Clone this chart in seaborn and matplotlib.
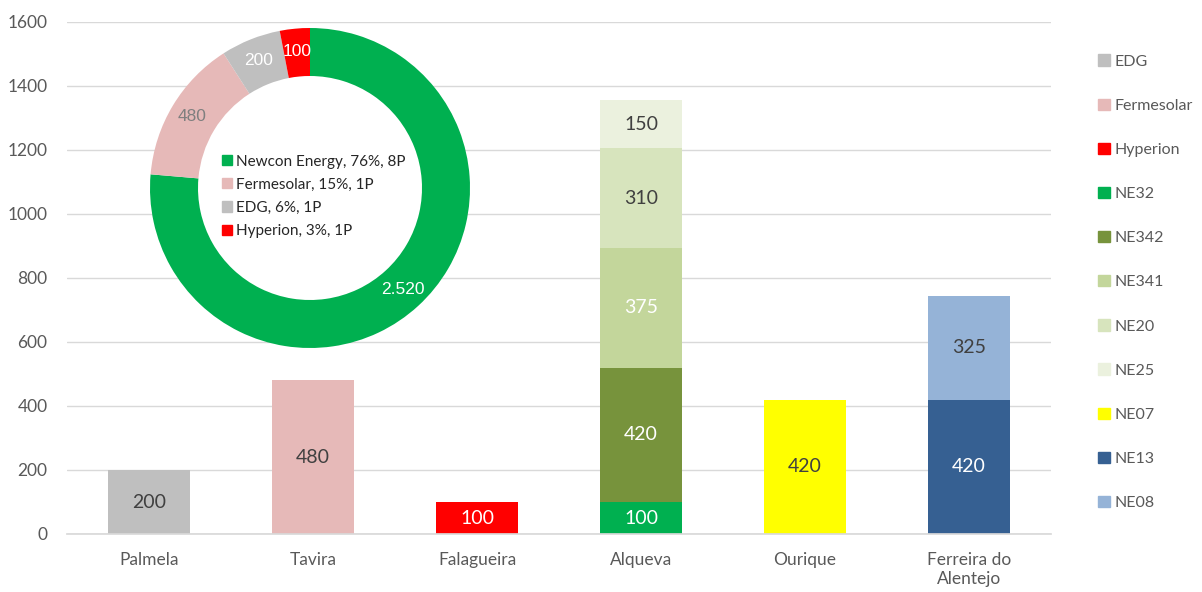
import matplotlib
matplotlib.use("Agg")
import matplotlib.pyplot as plt
import matplotlib.patches as mpatches
import seaborn as sns
import numpy as np

# ---------------- data ----------------
categories = ["Palmela", "Tavira", "Falagueira", "Alqueva", "Ourique", "Ferreira do\nAlentejo"]
series_names = ["EDG", "Fermesolar", "Hyperion", "NE32", "NE342", "NE341", "NE20", "NE25", "NE07", "NE13", "NE08"]
series_category = ["Palmela", "Tavira", "Falagueira", "Alqueva", "Alqueva", "Alqueva", "Alqueva", "Alqueva",
                   "Ourique", "Ferreira do\nAlentejo", "Ferreira do\nAlentejo"]
series_values = [200, 480, 100, 100, 420, 375, 310, 150, 420, 420, 325]
series_colors = ["#BFBFBF", "#E6B9B8", "#FF0000", "#00B050", "#77933C", "#C3D69B", "#D7E4BD", "#EBF1DE",
                 "#FFFF00", "#366092", "#95B3D7"]
label_colors = ["#404040", "#404040", "white", "white", "white", "white", "#404040", "#404040",
                "#404040", "white", "#404040"]
y_ticks = [0, 200, 400, 600, 800, 1000, 1200, 1400, 1600]

donut_names = ["Newcon Energy", "Fermesolar", "EDG", "Hyperion"]
donut_values = [2520, 480, 200, 100]
donut_projects = ["8P", "1P", "1P", "1P"]
donut_colors = ["#00B050", "#E6B9B8", "#BFBFBF", "#FF0000"]
donut_label_colors = ["white", "#7F7F7F", "white", "white"]

# ---------------- style ----------------
sns.set_theme(style="white")
plt.rcParams["font.family"] = ["Lato", "DejaVu Sans"]
text_grey = "#595959"

W, H = 1202, 592
fig = plt.figure(figsize=(W / 100, H / 100), dpi=100)
ax = fig.add_axes([67 / W, 58 / H, (1051 - 67) / W, (534 - 22) / H])

bottoms = {c: 0 for c in categories}
handles = []
for name, cat, val, col, lcol in zip(series_names, series_category, series_values, series_colors, label_colors):
    b = bottoms[cat]
    sns.barplot(x=[cat], y=[val], order=categories, color=col, width=0.5, bottom=b,
                ax=ax, saturation=1, linewidth=0, edgecolor="none")
    cont = ax.containers[-1]
    ax.bar_label(cont, labels=[f"{val}"], label_type="center", color=lcol, fontsize=14)
    bottoms[cat] = b + val
    handles.append(mpatches.Patch(color=col, label=name))

ax.set_ylim(0, 1600)
ax.set_yticks(y_ticks)
ax.set_xlim(-0.5, len(categories) - 0.5)
ax.set_xlabel("")
ax.set_ylabel("")
ax.yaxis.grid(True, color="#D9D9D9", linewidth=1)
ax.set_axisbelow(True)
for s in ["top", "right", "left"]:
    ax.spines[s].set_visible(False)
ax.spines["bottom"].set_color("#D9D9D9")
ax.tick_params(axis="both", length=0, colors=text_grey, labelsize=12.5)
ax.tick_params(axis="y", pad=14)
ax.tick_params(axis="x", pad=13)

leg = fig.legend(handles=handles, loc="upper left", bbox_to_anchor=(1092 / W, 1 - 48 / H),
                 frameon=False, fontsize=11.5, labelspacing=1.87, handlelength=0.72, handleheight=0.72,
                 handletextpad=0.3, borderaxespad=0)
for t in leg.get_texts():
    t.set_color(text_grey)

# ---------------- donut ----------------
cx, cy, r = 310, 188, 160
pax = fig.add_axes([(cx - r) / W, 1 - (cy + r) / H, 2 * r / W, 2 * r / H])
pax.set_aspect("equal")
pax.add_patch(mpatches.Circle((0, 0), 0.72, color="white", zorder=0))
wedges, _, autotexts = pax.pie(donut_values, colors=donut_colors, startangle=90, counterclock=False,
                               wedgeprops=dict(width=0.3, linewidth=0), autopct="%1.0f", pctdistance=0.86,
                               radius=1)
for t, v, c in zip(autotexts, donut_values, donut_label_colors):
    t.set_text(f"{v:,}".replace(",", "."))
    t.set_color(c)
    t.set_fontsize(12.5)
    t.set_family(["Liberation Sans", "DejaVu Sans"])
pax.set_xlim(-1, 1)
pax.set_ylim(-1, 1)
pax.axis("off")

total = sum(donut_values)
dl_handles = [mpatches.Patch(color=c, label=f"{n}, {round(v / total * 100)}%, {p}")
              for n, v, p, c in zip(donut_names, donut_values, donut_projects, donut_colors)]
dleg = pax.legend(handles=dl_handles, loc="center", bbox_to_anchor=(0.512, 0.474), frameon=False,
                  fontsize=11, labelspacing=0.6, handlelength=0.65, handleheight=0.65, handletextpad=0.3)
for t in dleg.get_texts():
    t.set_color("#262626")

fig.savefig("out.png", dpi=100)
